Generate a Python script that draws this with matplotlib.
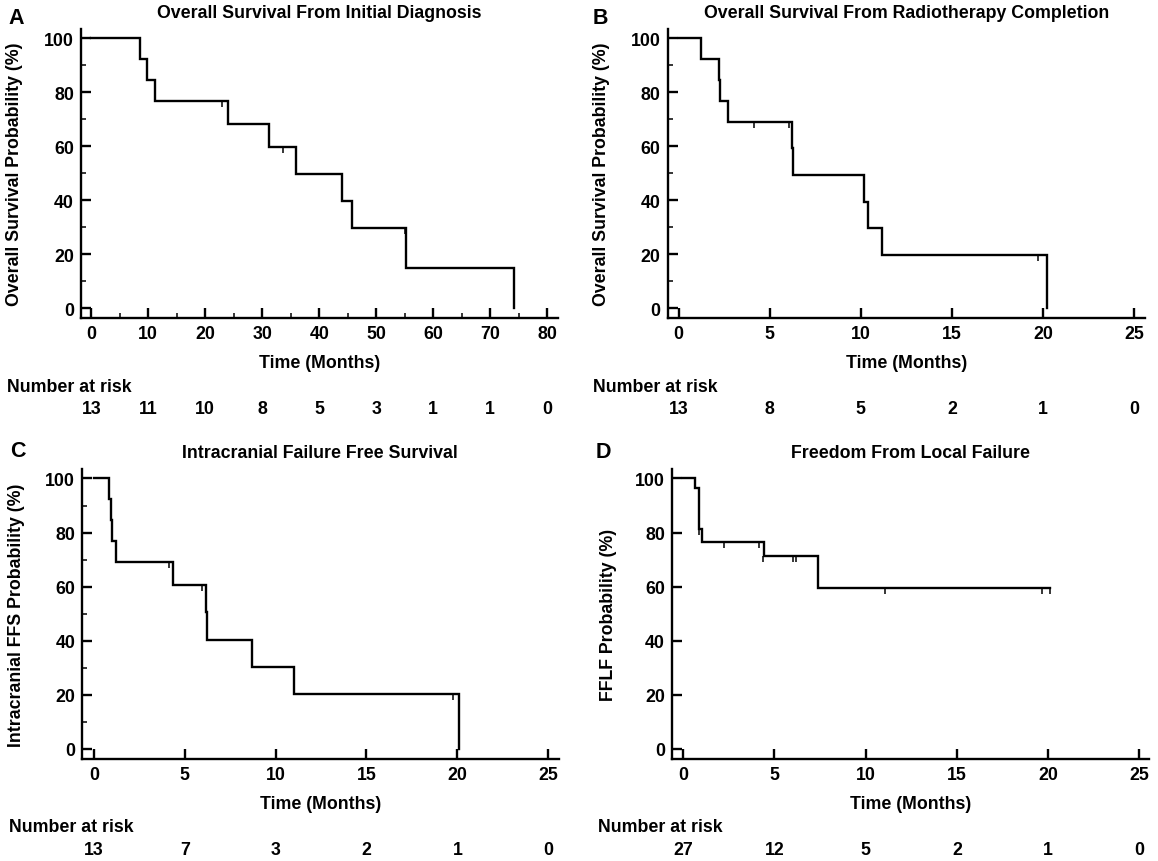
import matplotlib.pyplot as plt
import matplotlib.transforms as mtransforms
from matplotlib.ticker import MultipleLocator

plt.rcParams['font.family'] = ['Liberation Sans', 'DejaVu Sans']
plt.rcParams['font.weight'] = 'bold'

# ---- data (months, survival %) ----
# A: Overall Survival From Initial Diagnosis
a_times = [0, 8.5, 9.8, 11.1, 24.0, 31.1, 35.9, 43.9, 45.7, 55.2, 74.1]
a_surv = [100, 92.3, 84.6, 76.9, 68.4, 59.8, 49.8, 39.9, 29.9, 14.9, 0]
a_cens_t = [22.9, 33.7, 55.0]
a_cens_s = [76.9, 59.8, 29.9]
a_risk_t = [0, 10, 20, 30, 40, 50, 60, 70, 80]
a_risk_n = [13, 11, 10, 8, 5, 3, 1, 1, 0]

# B: Overall Survival From Radiotherapy Completion
b_times = [0, 1.25, 2.2, 2.25, 2.72, 6.2, 6.25, 10.15, 10.4, 11.15, 20.2]
b_surv = [100, 92.3, 84.6, 76.9, 69.2, 59.3, 49.4, 39.5, 29.6, 19.8, 0]
b_cens_t = [4.14, 6.05, 19.74]
b_cens_s = [69.2, 69.2, 19.8]
b_risk_t = [0, 5, 10, 15, 20, 25]
b_risk_n = [13, 8, 5, 2, 1, 0]

# C: Intracranial Failure Free Survival
c_times = [0, 0.81, 0.97, 1.0, 1.21, 4.35, 6.17, 6.23, 8.7, 11.03, 20.1]
c_surv = [100, 92.3, 84.6, 76.9, 69.2, 60.6, 50.5, 40.4, 30.3, 20.2, 0]
c_cens_t = [4.11, 5.97, 19.74]
c_cens_s = [69.2, 60.6, 20.2]
c_risk_t = [0, 5, 10, 15, 20, 25]
c_risk_n = [13, 7, 3, 2, 1, 0]

# D: Freedom From Local Failure
d_times = [0, 0.67, 0.86, 1.02, 4.42, 7.41, 20.1]
d_surv = [100, 96.3, 81.5, 76.7, 71.4, 59.5, 59.5]
d_cens_t = [0.86, 2.24, 4.17, 4.38, 6.0, 6.19, 11.05, 19.68, 20.1]
d_cens_s = [81.5, 76.7, 76.7, 71.4, 71.4, 71.4, 59.5, 59.5, 59.5]
d_risk_t = [0, 5, 10, 15, 20, 25]
d_risk_n = [27, 12, 5, 2, 1, 0]

W, H = 1158, 862
FS = 12.8
fig = plt.figure(figsize=(W / 100, H / 100), dpi=100)


def px(x, y):
    return x / W, 1 - y / H


censor_marker = [(0, 0), (0, -1)]

panels = [
    dict(letter='A', title='Overall Survival From Initial Diagnosis',
         ylabel='Overall Survival Probability (%)',
         t=a_times, s=a_surv, ct=a_cens_t, cs=a_cens_s, rt=a_risk_t, rn=a_risk_n,
         box=(81, 558, 30, 319.3), x0=91.3, xe=547.3, xmax=80, step=10, xminor=True, yminor=True,
         ylab_x=15, let=(8, 24), nar_x=7),
    dict(letter='B', title='Overall Survival From Radiotherapy Completion',
         ylabel='Overall Survival Probability (%)',
         t=b_times, s=b_surv, ct=b_cens_t, cs=b_cens_s, rt=b_risk_t, rn=b_risk_n,
         box=(667.6, 1144.9, 30, 319.3), x0=678.6, xe=1134.2, xmax=25, step=5, xminor=False, yminor=True,
         ylab_x=601, let=(593, 24), nar_x=593),
    dict(letter='C', title='Intracranial Failure Free Survival',
         ylabel='Intracranial FFS Probability (%)',
         t=c_times, s=c_surv, ct=c_cens_t, cs=c_cens_s, rt=c_risk_t, rn=c_risk_n,
         box=(82.1, 558.6, 470, 760), x0=93.8, xe=548.3, xmax=25, step=5, xminor=False, yminor=True,
         ylab_x=17, let=(10, 457), nar_x=9),
    dict(letter='D', title='Freedom From Local Failure',
         ylabel='FFLF Probability (%)',
         t=d_times, s=d_surv, ct=d_cens_t, cs=d_cens_s, rt=d_risk_t, rn=d_risk_n,
         box=(672, 1148.6, 470, 760), x0=683, xe=1139.4, xmax=25, step=5, xminor=False, yminor=False,
         ylab_x=608, let=(596, 458), nar_x=598),
]

for p in panels:
    left, right, top, bottom = p['box']
    ax = fig.add_axes([left / W, 1 - bottom / H, (right - left) / W, (bottom - top) / H])
    ppm = (p['xe'] - p['x0']) / p['xmax']
    ax.set_xlim((left - p['x0']) / ppm, (right - p['x0']) / ppm)
    ax.set_ylim(-3.7, 103.5)

    ax.plot(p['t'], p['s'], drawstyle='steps-post', color='black', lw=1.7,
            solid_joinstyle='miter')
    ax.plot(p['ct'], p['cs'], linestyle='none', marker=censor_marker, markersize=8,
            markeredgecolor='black', markeredgewidth=1.1)

    for side in ['top', 'right']:
        ax.spines[side].set_visible(False)
    for side in ['left', 'bottom']:
        ax.spines[side].set_linewidth(1.7)

    ax.set_xticks(list(range(0, p['xmax'] + 1, p['step'])))
    ax.set_yticks([0, 20, 40, 60, 80, 100])
    if p['xminor']:
        ax.xaxis.set_minor_locator(MultipleLocator(p['step'] / 2))
    if p['yminor']:
        ax.yaxis.set_minor_locator(MultipleLocator(10))
    ax.tick_params(which='major', direction='in', length=7.3, width=1.7,
                   labelsize=FS, pad=5.0)
    ax.tick_params(which='minor', direction='in', length=3.8, width=1.1)
    ax.tick_params(axis='y', pad=5.0)

    cx = (left + right) / 2
    fig.text(*px(cx, top - 11.7), p['title'], ha='center', va='baseline', fontsize=FS)
    fig.text(*px(p['let'][0], p['let'][1]), p['letter'], ha='left', va='baseline', fontsize=15.5)
    fig.text(*px(p['ylab_x'], (top + bottom) / 2), p['ylabel'], rotation=90,
             ha='center', va='center', fontsize=FS)
    fig.text(*px(cx, bottom + 49), 'Time (Months)', ha='center', va='baseline', fontsize=FS)
    fig.text(*px(p['nar_x'], bottom + 72.4), 'Number at risk', ha='left', va='baseline', fontsize=FS)

    trans = mtransforms.blended_transform_factory(ax.transData, fig.transFigure)
    for t, n in zip(p['rt'], p['rn']):
        ax.text(t, 1 - (bottom + 95) / H, str(n), transform=trans, ha='center',
                va='baseline', fontsize=FS, clip_on=False)

fig.savefig('out.png', dpi=100)
